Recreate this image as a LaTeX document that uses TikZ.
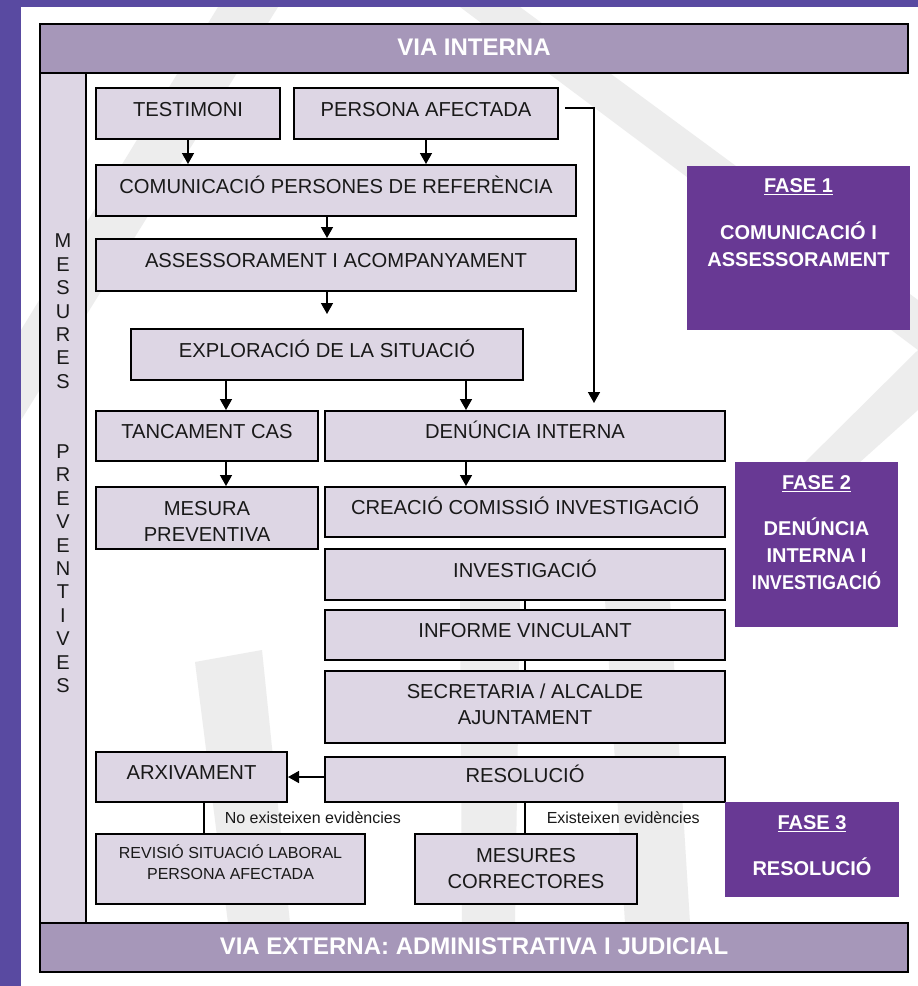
\documentclass[tikz,border=0pt]{standalone}
\usepackage{fontspec}
\setmainfont{Liberation Sans}
\usepackage{xcolor}
\usepackage{tikz}
\usetikzlibrary{arrows.meta, positioning}

\definecolor{pagepurple}{RGB}{89,74,161}
\definecolor{barlilac}{RGB}{166,151,185}
\definecolor{boxlilac}{RGB}{221,214,228}
\definecolor{fasepurple}{RGB}{104,57,148}
\definecolor{wmgray}{RGB}{237,237,237}

\begin{document}
\begin{tikzpicture}[
  x=1pt, y=-1pt,
  every node/.style={inner sep=0pt, text=black!90},
  bar/.style={draw, line width=2.5pt, fill=barlilac, text=white,
    font=\fontsize{24}{28}\selectfont\bfseries, text height=17pt, text depth=4pt},
  box/.style={draw, line width=2pt, fill=boxlilac, font=\fontsize{20.2}{26}\selectfont, align=center},
  oneline/.style={text height=15pt, text depth=10pt},
  fasebox/.style={fill=fasepurple},
  fasetxt/.style={text=white, font=\fontsize{20}{27}\selectfont\bfseries, align=center, anchor=north},
  arr/.style={line width=1.5pt, -{Triangle[width=12pt,length=11pt]}},
  link/.style={line width=1.5pt},
  evid/.style={font=\fontsize{16}{19}\selectfont}
]
\useasboundingbox (0,0) rectangle (918,986);
% page and faint logo behind the chart
\fill[pagepurple] (0,0) rectangle (918,986);
\fill[white] (21,7) rectangle (918,986);
\fill[wmgray] (218,7) -- (278,7) -- (21,420) -- (21,330) -- cycle;
\fill[wmgray] (460,7) -- (520,7) -- (918,300) -- (918,350) -- cycle;
\fill[wmgray] (918,350) -- (918,410) -- (840,480) -- (795,472) -- cycle;
\fill[wmgray] (195,662) -- (262,650) -- (290,923) -- (228,923) -- cycle;
\fill[wmgray] (460,600) -- (520,600) -- (515,923) -- (462,923) -- cycle;
\fill[wmgray] (605,600) -- (670,600) -- (690,923) -- (625,923) -- cycle;

% frame: via interna / mesures preventives / via externa
\node[draw, line width=2.5pt, fill=boxlilac, minimum width=46, minimum height=850] (columna) at (63,498) {};
\node[bar, minimum width=868, minimum height=49] (interna) at (474,48.5) {VIA INTERNA};
\node[bar, minimum width=868, minimum height=49] (externa) at (474,947.5) {VIA EXTERNA: ADMINISTRATIVA I JUDICIAL};
\node[font=\fontsize{20}{23.4}\selectfont, align=center, anchor=north] (mesures) at (63,234)
  {M\\E\\S\\U\\R\\E\\S\\[46.8pt]P\\R\\E\\V\\E\\N\\T\\I\\V\\E\\S};

% fase 1
\node[box, oneline, minimum width=184, minimum height=51] (testimoni) at (188,113.5) {TESTIMONI};
\node[box, oneline, minimum width=264, minimum height=51] (persona) at (426,113.5) {PERSONA AFECTADA};
\node[box, oneline, minimum width=480, minimum height=51] (comunicacio) at (336,190.5) {COMUNICACIÓ PERSONES DE REFERÈNCIA};
\node[box, oneline, minimum width=480, minimum height=52] (assessorament) at (336,265) {ASSESSORAMENT I ACOMPANYAMENT};
\node[box, oneline, minimum width=392, minimum height=51] (exploracio) at (327,354.5) {EXPLORACIÓ DE LA SITUACIÓ};
% fase 2
\node[box, oneline, minimum width=222, minimum height=50] (tancament) at (207,436) {TANCAMENT CAS};
\node[box, oneline, minimum width=400, minimum height=50] (denuncia) at (525,436) {DENÚNCIA INTERNA};
\node[box, text height=46.4pt, text depth=0pt, minimum width=222, minimum height=62] (mesura) at (207,518) {MESURA\\PREVENTIVA};
\node[box, oneline, minimum width=400, minimum height=50] (creacio) at (525,512) {CREACIÓ COMISSIÓ INVESTIGACIÓ};
\node[box, oneline, minimum width=400, minimum height=51] (investigacio) at (525,574.5) {INVESTIGACIÓ};
\node[box, oneline, minimum width=400, minimum height=50] (informe) at (525,635) {INFORME VINCULANT};
\node[box, text height=40pt, text depth=5.6pt, minimum width=400, minimum height=72] (secretaria) at (525,707) {SECRETARIA / ALCALDE\\AJUNTAMENT};
% fase 3
\node[box, oneline, minimum width=400, minimum height=45] (resolucio) at (525,779.5) {RESOLUCIÓ};
\node[box, oneline, minimum width=191, minimum height=50] (arxivament) at (191.5,777) {ARXIVAMENT};
\node[box, font=\fontsize{16}{21}\selectfont, text height=30pt, text depth=8.6pt, minimum width=269, minimum height=70] (revisio) at (230.5,869)
  {REVISIÓ SITUACIÓ LABORAL\\PERSONA AFECTADA};
\node[box, text height=40pt, text depth=1.6pt, minimum width=222, minimum height=70] (correctores) at (526,869) {MESURES\\CORRECTORES};

% connectors
\coordinate (desviament) at (594,108);
\draw[arr] (testimoni) -- (testimoni |- comunicacio.north);
\draw[arr] (persona) -- (persona |- comunicacio.north);
\draw[arr, shorten <=6pt, shorten >=7pt] (persona.east |- desviament) -- (desviament) -- (desviament |- denuncia.north);
\draw[arr] (comunicacio.south -| exploracio) -- (assessorament.north -| exploracio);
\draw[arr, shorten >=14pt] (assessorament.south -| exploracio) -- (exploracio);
\draw[arr] ([xshift=19pt]tancament.north |- exploracio.south) -- ([xshift=19pt]tancament.north);
\draw[arr] ([xshift=-59pt]denuncia.north |- exploracio.south) -- ([xshift=-59pt]denuncia.north);
\draw[arr] ([xshift=19pt]tancament.south) -- ([xshift=19pt]mesura.north);
\draw[arr] ([xshift=-59pt]denuncia.south) -- ([xshift=-59pt]creacio.north);
\draw[link] (investigacio) -- (informe);
\draw[link] (informe) -- (secretaria);
\draw[arr] (resolucio.west |- arxivament.east) -- (arxivament.east);
\draw[link] ([xshift=12.5pt]arxivament.south) -- node[evid, right=20pt] (noevid) {No existeixen evidències}
  ([xshift=12.5pt]arxivament.south |- revisio.north);
\draw[link] (resolucio) -- node[evid, right=21pt] (sievid) {Existeixen evidències} (resolucio |- correctores.north);

% fases
\node[fasebox, minimum width=223, minimum height=164] (fase1) at (798.5,248) {};
\node[fasetxt] (fase1txt) at (798.5,178) {\underline{FASE 1}\\[20pt]COMUNICACIÓ I\\ASSESSORAMENT};
\node[fasebox, minimum width=163, minimum height=165] (fase2) at (816.5,544.5) {};
\node[fasetxt] (fase2txt) at (816.5,475) {\underline{FASE 2}\\[19pt]DENÚNCIA\\INTERNA I\\\scalebox{0.9}[1]{INVESTIGACIÓ}};
\node[fasebox, minimum width=174, minimum height=95] (fase3) at (812,849.5) {};
\node[fasetxt] (fase3txt) at (812,815) {\underline{FASE 3}\\[19pt]RESOLUCIÓ};
\end{tikzpicture}
\end{document}
